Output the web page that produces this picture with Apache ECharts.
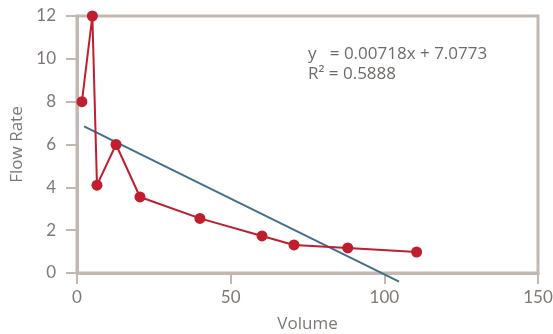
<!DOCTYPE html>
<html><head><meta charset="utf-8">
<script src="https://cdn.jsdelivr.net/npm/echarts@6/dist/echarts.min.js"></script>
<style>html,body{margin:0;padding:0;background:#fff}#c{width:553px;height:334px}</style>
</head><body><div id="c"></div>
<script>
const volume = [1.6, 5, 6.5, 12.7, 20.5, 40, 60.2, 70.6, 88.1, 110.5];
const flowRate = [8, 12, 4.1, 6, 3.55, 2.55, 1.73, 1.31, 1.17, 0.98];
const trendX = [2.3, 104.8];
const trendY = [6.85, -0.4];
const xTicks = [0, 50, 100, 150];
const yTicks = [0, 2, 4, 6, 8, 10, 12];
const equation = ['y   = 0.00718x + 7.0773', 'R\u00b2 = 0.5888'];

const axisCol = '#C3B8AF';
const labelCol = '#7D7875';
const font = 'Lato, "Open Sans", sans-serif';
const font2 = '"Open Sans", sans-serif';

const chart = echarts.init(document.getElementById('c'));
chart.setOption({
  animation: false,
  grid: { left: 77, right: 15, top: 16, bottom: 61, outerBoundsMode: 'none', containLabel: false,
          show: true, borderColor: axisCol, borderWidth: 3, backgroundColor: 'transparent' },
  xAxis: {
    type: 'value', min: xTicks[0], max: xTicks[xTicks.length-1], interval: 50,
    name: 'Volume', nameLocation: 'middle', nameGap: 43,
    nameTextStyle: { color: labelCol, fontSize: 17, fontFamily: font2 },
    axisLine: { show: true, lineStyle: { color: axisCol, width: 3 } },
    axisTick: { show: true, length: 11, lineStyle: { color: axisCol, width: 2 } },
    axisLabel: { color: labelCol, fontSize: 17, fontFamily: font, margin: 16 },
    splitLine: { show: false }
  },
  yAxis: {
    type: 'value', min: yTicks[0], max: yTicks[yTicks.length-1], interval: 2,
    name: 'Flow Rate', nameLocation: 'middle', nameGap: 50,
    nameTextStyle: { color: labelCol, fontSize: 17, fontFamily: font2 },
    axisLine: { show: true, lineStyle: { color: axisCol, width: 3 } },
    axisTick: { show: true, length: 11, lineStyle: { color: axisCol, width: 2 } },
    axisLabel: { color: labelCol, fontSize: 17, fontFamily: font, margin: 21 },
    splitLine: { show: false }
  },
  series: [
    {
      type: 'line', clip: false, symbol: 'none', silent: true,
      lineStyle: { color: '#41708A', width: 2 },
      data: trendX.map((x, i) => [x, trendY[i]]), z: 3
    },
    {
      type: 'line', symbol: 'circle', symbolSize: 11, clip: false,
      lineStyle: { color: '#BE1E2D', width: 2 },
      itemStyle: { color: '#BE1E2D' },
      data: volume.map((x, i) => [x, flowRate[i]]), z: 4
    }
  ],
  graphic: [
    { type: 'text', left: 308, top: 46, style: { text: equation[0], fill: '#6E6A67', fontSize: 17, fontFamily: font2 } },
    { type: 'text', left: 308, top: 66, style: { text: equation[1], fill: '#6E6A67', fontSize: 17, fontFamily: font2 } }
  ]
});
</script></body></html>
